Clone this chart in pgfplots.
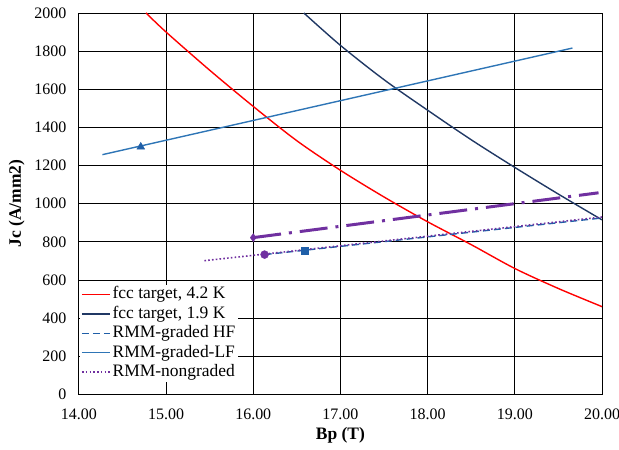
\documentclass[border=0pt]{standalone}
\usepackage{fontspec}
\setmainfont{Liberation Serif}
\usepackage{pgfplots}
\pgfplotsset{compat=1.18}
\definecolor{fccred}{HTML}{FF0000}
\definecolor{navy}{HTML}{203864}
\definecolor{rmmblue}{HTML}{2E75B6}
\definecolor{hfblue}{HTML}{1F5FA8}
\definecolor{rmmpurple}{HTML}{7030A0}

\begin{document}
\begin{tikzpicture}[font=\fontsize{16bp}{19bp}\selectfont]
\begin{axis}[
  scale only axis,
  width=524bp, height=382bp,
  xmin=14, xmax=20, ymin=0, ymax=2000,
  xtick={14,15,...,20}, ytick={0,200,...,2000},
  xticklabel style={yshift=-11bp, /pgf/number format/.cd, fixed, fixed zerofill, precision=2},
  yticklabel style={xshift=-9bp, /pgf/number format/.cd, fixed, 1000 sep={}},
  /pgf/number format/assume math mode=true,
  major tick length=0pt,
  grid=major,
  grid style={black, line width=0.8bp},
  axis line style={black, line width=0.8bp},
  xlabel={\textbf{Bp (T)}}, ylabel={\textbf{Jc (A/mm2)}},
  label style={font=\fontsize{17.5bp}{20bp}\selectfont},
  xlabel style={yshift=-1bp}, ylabel style={yshift=3bp},
  legend cell align=left,
  legend style={draw=none, fill=white, at={(axis description cs:0.002,0.032)}, anchor=south west,
    inner xsep=1bp, inner ysep=0bp, row sep=0bp,
    nodes={text height=12.5bp, text depth=3.5bp, inner ysep=1.75bp, inner xsep=2bp},
    font=\fontsize{17.5bp}{19bp}\selectfont},
  legend image code/.code={\draw[#1] (0bp,0bp) -- (28bp,0bp);},
]
% fcc target, 4.2 K
\addplot[fccred, line width=1.4bp, smooth] coordinates {
  (14.77,2000) (15.0,1900) (15.5,1700) (16.0,1510) (16.5,1330) (17.0,1175)
  (17.5,1035) (18.0,905) (18.5,785) (19.0,660) (19.5,555) (20.0,460)};
\addlegendentry{fcc target, 4.2 K}
% fcc target, 1.9 K
\addplot[navy, line width=1.4bp, smooth] coordinates {
  (16.58,2000) (17.0,1830) (17.5,1650) (18.0,1490) (18.5,1335) (19.0,1190)
  (19.5,1050) (20.0,915)};
\addlegendentry{fcc target, 1.9 K}
% RMM-graded HF
\addplot[hfblue, line width=1.4bp, dash pattern=on 7bp off 4bp] coordinates {
  (16.13,733) (20.0,925)};
\addlegendentry{RMM-graded HF}
% RMM-graded-LF
\addplot[rmmblue, line width=1.4bp] coordinates {
  (14.27,1257) (19.66,1816)};
\addlegendentry{RMM-graded-LF}
% RMM-nongraded
\addplot[rmmpurple, line width=1.6bp, dash pattern=on 1.6bp off 2.2bp] coordinates {
  (15.44,701) (20.0,930)};
\addlegendentry{RMM-nongraded}
% dash-dot line, not in legend
\addplot[rmmpurple, line width=3bp, dash pattern=on 28bp off 8bp on 3bp off 8bp, forget plot] coordinates {
  (16.0,822) (19.96,1057)};
% single markers
\addplot[only marks, mark=triangle*, mark size=4.5bp, hfblue, forget plot] coordinates {(14.71,1298)};
\addplot[only marks, mark=*, mark size=4bp, rmmpurple, forget plot] coordinates {(16.13,733)};
\addplot[only marks, mark=square*, mark size=3.5bp, hfblue, forget plot] coordinates {(16.59,752)};
\addplot[only marks, mark=diamond*, mark size=4bp, rmmpurple, forget plot] coordinates {(16.0,822)};
\end{axis}
\pgfresetboundingbox
\path ([shift={(-79bp,-55bp)}]current axis.south west) rectangle ([shift={(17bp,13bp)}]current axis.north east);
\end{tikzpicture}
\end{document}
